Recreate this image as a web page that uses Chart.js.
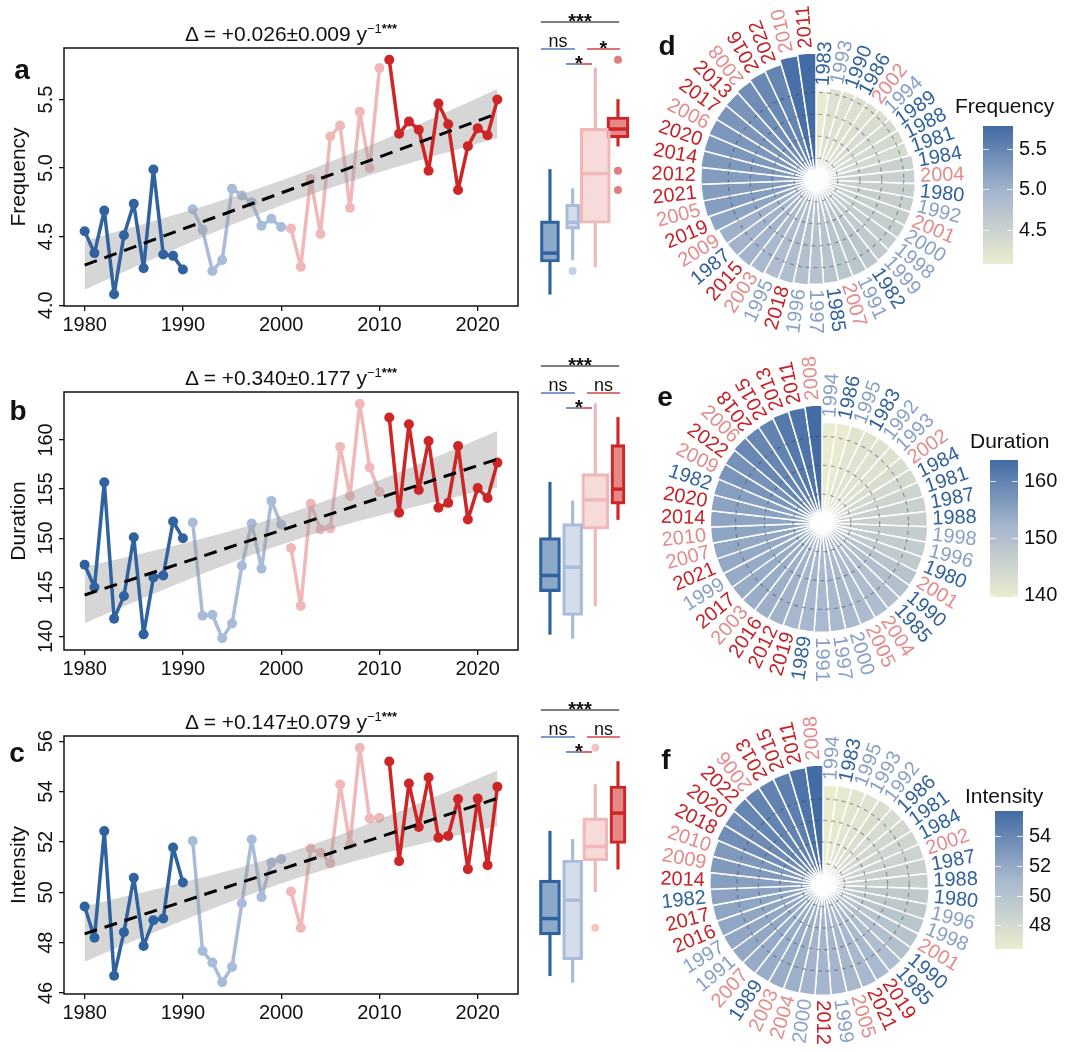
<!DOCTYPE html>
<html>
<head>
<meta charset="utf-8">
<script src="https://cdn.jsdelivr.net/npm/chart.js"></script>
<style>
  body { margin: 0; background: #fff; width: 1068px; height: 1052px; position: relative; overflow: hidden;
         font-family: "Liberation Sans", Arial, Helvetica, sans-serif; color: #111; }
  canvas { position: absolute; }
  .txt { position: absolute; white-space: nowrap; line-height: 1; }
  .ttl { font-size: 21px; transform: translate(-50%, -50%); }
  .ttl sup { font-size: 13px; vertical-align: 8px; }
  .lab { font-size: 28px; font-weight: bold; transform: translate(-50%, -50%); }
  .leg { font-size: 21px; transform: translateY(-50%); }
</style>
</head>
<body>
<script>
const FONT = '"Liberation Sans", Arial, Helvetica, sans-serif';
Chart.defaults.font.family = FONT;
Chart.defaults.color = '#111';

// ---- data ----
const years = [1980, 1981, 1982, 1983, 1984, 1985, 1986, 1987, 1988, 1989, 1990,
               1991, 1992, 1993, 1994, 1995, 1996, 1997, 1998, 1999, 2000,
               2001, 2002, 2003, 2004, 2005, 2006, 2007, 2008, 2009, 2010,
               2011, 2012, 2013, 2014, 2015, 2016, 2017, 2018, 2019, 2020, 2021, 2022];
const frequency = [4.54, 4.38, 4.69, 4.08, 4.51, 4.74, 4.27, 4.99, 4.37, 4.36, 4.26,
                   4.70, 4.55, 4.25, 4.33, 4.85, 4.80, 4.75, 4.58, 4.63, 4.57,
                   4.56, 4.28, 4.92, 4.52, 5.23, 5.31, 4.71, 5.41, 5.00, 5.73,
                   5.79, 5.25, 5.34, 5.28, 4.98, 5.47, 5.32, 4.84, 5.16, 5.29, 5.24, 5.50];
const duration = [147.3, 145.0, 155.7, 141.8, 144.1, 150.1, 140.2, 146.0, 146.2, 151.7, 150.0,
                  151.6, 142.1, 142.2, 139.8, 141.3, 147.2, 151.5, 146.9, 153.8, 151.4,
                  149.0, 143.1, 153.5, 150.9, 151.0, 159.3, 154.3, 163.7, 157.2, 154.7,
                  162.3, 152.6, 161.6, 154.9, 159.9, 153.1, 153.6, 159.4, 151.9, 155.1, 154.1, 157.7];
const intensity = [49.44, 48.20, 52.43, 46.69, 48.42, 50.58, 47.87, 48.89, 48.96, 51.78, 50.39,
                   52.04, 47.67, 47.21, 46.43, 47.04, 49.57, 52.10, 49.81, 51.18, 51.32,
                   50.03, 48.59, 51.74, 51.57, 51.15, 54.28, 51.90, 55.74, 52.93, 52.96,
                   55.19, 51.24, 54.32, 52.59, 54.56, 52.17, 52.24, 53.70, 50.92, 53.72, 51.08, 54.19];

const periodEnd = [1990, 2000, 2010, 2022];
const varNames = ['Frequency', 'Duration', 'Intensity'];
const trendText = ['+0.026±0.009', '+0.340±0.177', '+0.147±0.079'];
const lineLetters = ['a', 'b', 'c'];
const polarLetters = ['d', 'e', 'f'];
// significance: all periods, first pair, last pair, middle pair
const sigFrequency = ['***', 'ns', '*', '*'];
const sigDuration = ['***', 'ns', 'ns', '*'];
const sigIntensity = ['***', 'ns', 'ns', '*'];
const yStep = [0.5, 5, 2];
const barStep = [0.5, 10, 2];
const ringStep = [1, 40, 10];

// ---- styles / layout ----
const periodColor = ['rgb(47,98,158)', 'rgb(168,188,218)', 'rgb(240,184,184)', 'rgb(206,38,38)'];
const boxFill = ['rgba(47,98,158,0.55)', 'rgba(168,188,218,0.5)', 'rgba(240,184,184,0.5)', 'rgba(206,38,38,0.55)'];
const outFill = ['rgba(47,98,158,0.6)', 'rgba(168,188,218,0.7)', 'rgba(240,170,170,0.7)', 'rgba(206,38,38,0.6)'];
const yearColor = ['rgb(50,98,155)', 'rgb(138,160,198)', 'rgb(226,140,140)', 'rgb(196,34,40)'];
const ramp = [[235, 236, 207], [168, 184, 206], [67, 107, 164]];

const layout = [
  { top: 0,   letter: [22, 70],  pLetter: [667, 46],  polar: [816, 180, 127], bar: [983, 123, 267, 30], leg: [955, 105], boxW: [19, 14, 30, 22] },
  { top: 344, letter: [18, 411], pLetter: [665, 397], polar: [822, 523, 118], bar: [990, 457, 600, 28], leg: [970, 440], boxW: [21, 20, 27, 14] },
  { top: 688, letter: [17, 753], pLetter: [666, 760], polar: [823, 885, 120], bar: [995, 808, 952, 28], leg: [965, 795], boxW: [21, 20, 25, 16] }
];
const brackets = [
  { from: -0.40, to: 3.05, dy: -26, colors: ['#555555'] },
  { from: -0.40, to: 1.10, dy: 1,   colors: ['rgb(85,120,175)'] },
  { from: 1.63,  to: 3.09, dy: 1,   colors: ['rgb(212,70,70)'] },
  { from: 0.71,  to: 1.85, dy: 16,  colors: ['rgb(85,120,175)', 'rgb(212,70,70)'] }
];

// ---- helpers ----
function periodOf(y) { return periodEnd.findIndex(e => y <= e); }

function rampColor(t) {
  t = Math.max(0, Math.min(1, t));
  const k = t < 0.5 ? 0 : 1, f = t < 0.5 ? t / 0.5 : (t - 0.5) / 0.5;
  const c = ramp[k].map((v, i) => Math.round(v + (ramp[k + 1][i] - v) * f));
  return `rgb(${c[0]},${c[1]},${c[2]})`;
}

function quantile(s, p) {
  const h = (s.length - 1) * p, i = Math.floor(h);
  return i + 1 < s.length ? s[i] + (h - i) * (s[i + 1] - s[i]) : s[i];
}

function boxStats(v) {
  const s = [...v].sort((a, b) => a - b);
  const q1 = quantile(s, 0.25), med = quantile(s, 0.5), q3 = quantile(s, 0.75);
  const iqr = q3 - q1, lf = q1 - 1.5 * iqr, uf = q3 + 1.5 * iqr;
  const inside = s.filter(x => x >= lf && x <= uf);
  return { q1, med, q3, lo: inside[0], hi: inside[inside.length - 1], out: s.filter(x => x < lf || x > uf) };
}

// OLS fit + 95% confidence band of the mean
function trend(vals) {
  const n = years.length;
  const mx = years.reduce((a, b) => a + b, 0) / n;
  const my = vals.reduce((a, b) => a + b, 0) / n;
  let sxx = 0, sxy = 0, sse = 0;
  years.forEach((x, i) => { sxx += (x - mx) ** 2; sxy += (x - mx) * (vals[i] - my); });
  const b = sxy / sxx, a = my - b * mx;
  years.forEach((x, i) => { sse += (vals[i] - a - b * x) ** 2; });
  const s = Math.sqrt(sse / (n - 2));
  return { fit: x => a + b * x, half: x => 2.02 * s * Math.sqrt(1 / n + (x - mx) ** 2 / sxx) };
}

function addCanvas(left, top, w, h) {
  const c = document.createElement('canvas');
  c.width = w; c.height = h;
  c.style.left = left + 'px'; c.style.top = top + 'px';
  c.style.width = w + 'px'; c.style.height = h + 'px';
  document.body.appendChild(c);
  return c;
}

function addText(html, cls, x, y) {
  const d = document.createElement('div');
  d.className = 'txt ' + cls;
  d.innerHTML = html;
  d.style.left = x + 'px'; d.style.top = y + 'px';
  document.body.appendChild(d);
}

const base = { responsive: false, animation: false, events: [], devicePixelRatio: 1 };
const noLegend = { legend: { display: false }, tooltip: { enabled: false } };

const framePlugin = {
  id: 'frame',
  afterDraw(chart) {
    const { ctx, chartArea: a } = chart;
    ctx.save();
    ctx.strokeStyle = '#111';
    ctx.lineWidth = 1.5;
    ctx.strokeRect(a.left, a.top, a.right - a.left, a.bottom - a.top);
    ctx.restore();
  }
};

function yLabelPlugin(dec) {
  return {
    id: 'ylab',
    afterDraw(chart) {
      const s = chart.scales.y, ctx = chart.ctx;
      ctx.save();
      ctx.font = `20px ${FONT}`;
      ctx.fillStyle = '#111';
      ctx.textAlign = 'center';
      ctx.textBaseline = 'middle';
      s.ticks.forEach(t => {
        ctx.save();
        ctx.translate(46, s.getPixelForValue(t.value));
        ctx.rotate(-Math.PI / 2);
        ctx.fillText(t.value.toFixed(dec), 0, 0);
        ctx.restore();
      });
      ctx.restore();
    }
  };
}

function bracketPlugin(sig) {
  return {
    id: 'sig',
    afterDraw(chart) {
      const ctx = chart.ctx, xs = chart.scales.x, top = chart.chartArea.top;
      ctx.save();
      brackets.forEach((b, k) => {
        const x0 = xs.getPixelForValue(b.from), x1 = xs.getPixelForValue(b.to), y = top + b.dy;
        const seg = (x1 - x0) / b.colors.length;
        ctx.lineWidth = 1.6;
        b.colors.forEach((c, j) => {
          ctx.strokeStyle = c;
          ctx.beginPath();
          ctx.moveTo(x0 + j * seg, y);
          ctx.lineTo(x0 + (j + 1) * seg, y);
          ctx.stroke();
        });
        const txt = sig[k], stars = txt.includes('*');
        ctx.fillStyle = '#111';
        ctx.textAlign = 'center';
        ctx.textBaseline = 'alphabetic';
        ctx.font = stars ? `bold 20px ${FONT}` : `18px ${FONT}`;
        ctx.fillText(txt, (x0 + x1) / 2, stars ? y + 6 : y - 2);
      });
      ctx.restore();
    }
  };
}

function yearLabelPlugin(idx) {
  return {
    id: 'years',
    afterDatasetsDraw(chart) {
      const ctx = chart.ctx, meta = chart.getDatasetMeta(0);
      ctx.save();
      ctx.font = `20px ${FONT}`;
      ctx.textBaseline = 'middle';
      meta.data.forEach((arc, j) => {
        const p = arc.getProps(['x', 'y', 'startAngle', 'endAngle', 'outerRadius'], true);
        const mid = (p.startAngle + p.endAngle) / 2;
        const deg = ((mid * 180 / Math.PI + 90) % 360 + 360) % 360;
        const rr = p.outerRadius + 5;
        const flip = deg > 180 && deg < 315;
        ctx.save();
        ctx.translate(p.x + rr * Math.cos(mid), p.y + rr * Math.sin(mid));
        ctx.rotate(flip ? mid + Math.PI : mid);
        ctx.textAlign = flip ? 'right' : 'left';
        ctx.fillStyle = yearColor[periodOf(years[idx[j]])];
        ctx.fillText(String(years[idx[j]]), 0, 0);
        ctx.restore();
      });
      ctx.restore();
    }
  };
}

// ---- panels ----
function drawRow(r, vals, sig) {
  const L = layout[r];
  const tr = trend(vals);
  const lower = years.map(x => ({ x, y: tr.fit(x) - tr.half(x) }));
  const upper = years.map(x => ({ x, y: tr.fit(x) + tr.half(x) }));
  const all = vals.concat(lower.map(p => p.y), upper.map(p => p.y));
  const lo = Math.min(...all), hi = Math.max(...all);
  const ymin = lo - 0.05 * (hi - lo), ymax = hi + 0.05 * (hi - lo);
  const dec = yStep[r] < 1 ? 1 : 0;

  // time series with trend
  const ds = [];
  for (let g = 0; g < 4; g++) {
    ds.push({
      data: years.map((x, i) => ({ x, y: vals[i] })).filter(p => periodOf(p.x) === g),
      borderColor: periodColor[g], backgroundColor: periodColor[g],
      borderWidth: 3.5, borderJoinStyle: 'round', borderCapStyle: 'round',
      pointRadius: 5, pointBorderWidth: 0,
      order: (g === 0 || g === 3) ? 2 : 4
    });
  }
  ds.push({ data: lower, pointRadius: 0, borderWidth: 0, borderColor: 'transparent', fill: false, order: 3 });
  ds.push({ data: upper, pointRadius: 0, borderWidth: 0, borderColor: 'transparent',
            fill: { target: 4 }, backgroundColor: 'rgba(153,153,153,0.4)', order: 3 });
  ds.push({ data: [1980, 2022].map(x => ({ x, y: tr.fit(x) })), borderColor: '#000',
            borderDash: [13, 8], borderWidth: 3, pointRadius: 0, order: 0 });

  new Chart(addCanvas(0, L.top, 530, 340), {
    type: 'line',
    data: { datasets: ds },
    options: {
      ...base,
      layout: { autoPadding: false, padding: { left: 0, right: 12, top: 48, bottom: 4 } },
      plugins: noLegend,
      scales: {
        x: {
          type: 'linear', min: 1977.9, max: 2024.1,
          ticks: { stepSize: 10, includeBounds: false, font: { size: 20 }, color: '#111', padding: 2,
                   maxRotation: 0, callback: v => String(v) },
          grid: { drawOnChartArea: false, tickLength: 5, color: '#111', lineWidth: 1.3 },
          border: { display: false },
          afterFit: s => { s.height = 30; }
        },
        y: {
          type: 'linear', min: ymin, max: ymax,
          ticks: { display: false, stepSize: yStep[r], includeBounds: false },
          grid: { drawOnChartArea: false, tickLength: 5, color: '#111', lineWidth: 1.3 },
          border: { display: false },
          title: { display: true, text: varNames[r], font: { size: 21 }, color: '#111', padding: { top: 7, bottom: 0 } },
          afterFit: s => { s.width = 64; }
        }
      }
    },
    plugins: [framePlugin, yLabelPlugin(dec)]
  });

  // boxplots by period
  const bds = [];
  for (let g = 0; g < 4; g++) {
    const st = boxStats(vals.filter((v, i) => periodOf(years[i]) === g));
    const w = L.boxW[g];
    bds.push({ type: 'bar', stack: 'box', data: [{ x: g, y: [st.lo, st.q1] }, { x: g, y: [st.q3, st.hi] }],
               backgroundColor: periodColor[g], barThickness: 2.5, order: 4 });
    bds.push({ type: 'bar', stack: 'box', data: [{ x: g, y: [st.q1, st.q3] }], backgroundColor: boxFill[g],
               borderColor: periodColor[g], borderWidth: 2.5, borderSkipped: false,
               barThickness: w, order: 3 });
    bds.push({ type: 'scatter', data: [{ x: g, y: st.med }], pointStyle: 'line', pointRadius: w / 2 - 1.5,
               pointBorderColor: periodColor[g], pointBorderWidth: 3.5, order: 2 });
    if (st.out.length) {
      bds.push({ type: 'scatter', data: st.out.map(v => ({ x: g, y: v })), pointRadius: 4,
                 pointBackgroundColor: outFill[g], pointBorderWidth: 0, order: 1 });
    }
  }
  new Chart(addCanvas(530, L.top, 100, 340), {
    type: 'bar',
    data: { datasets: bds },
    options: {
      ...base,
      layout: { autoPadding: false, padding: { top: 48, bottom: 34, left: 0, right: 0 } },
      plugins: noLegend,
      scales: {
        x: { type: 'linear', min: -0.88, max: 3.53, offset: false, display: false },
        y: { type: 'linear', min: ymin, max: ymax, stacked: false, display: false }
      }
    },
    plugins: [bracketPlugin(sig)]
  });

  addText(`Δ = ${trendText[r]} y<sup>−1<b>***</b></sup>`, 'ttl', 291, L.top + 33);
  addText(lineLetters[r], 'lab', L.letter[0], L.letter[1]);
}

function drawPolar(r, vals) {
  const L = layout[r];
  const [cx, cy, R] = L.polar;
  const idx = years.map((y, i) => i).sort((a, b) => vals[a] - vals[b]);
  const vmin = Math.min(...vals), vmax = Math.max(...vals);
  new Chart(addCanvas(cx - 200, cy - 200, 400, 400), {
    type: 'polarArea',
    data: {
      labels: idx.map(i => String(years[i])),
      datasets: [{
        data: idx.map(i => vals[i]),
        backgroundColor: idx.map(i => rampColor((vals[i] - vmin) / (vmax - vmin))),
        borderColor: '#fff', borderWidth: 1.5
      }]
    },
    options: {
      ...base,
      layout: { autoPadding: false, padding: 50 },
      plugins: noLegend,
      scales: {
        r: {
          min: 0, max: vmax * 150 / R,
          ticks: { display: false, stepSize: ringStep[r] },
          afterBuildTicks: s => { s.ticks = s.ticks.filter(t => t.value < vmin); },
          grid: { color: 'rgba(60,60,70,0.45)', lineWidth: 1.2, z: 1 },
          border: { dash: [4, 4] },
          angleLines: { display: false },
          pointLabels: { display: false }
        }
      }
    },
    plugins: [yearLabelPlugin(idx)]
  });
  addText(polarLetters[r], 'lab', L.pLetter[0], L.pLetter[1]);
}

function drawColorbar(r, vals) {
  const L = layout[r];
  const [bx, bt, bb, bw] = L.bar;
  const vmin = Math.min(...vals), vmax = Math.max(...vals);
  const dec = barStep[r] < 1 ? 1 : 0;
  new Chart(addCanvas(bx, bt - 15, bw + 60, bb - bt + 30), {
    type: 'bar',
    data: {
      labels: [''],
      datasets: [{
        data: [[vmin, vmax]], borderWidth: 0, barPercentage: 1, categoryPercentage: 1,
        backgroundColor: c => {
          const ys = c.chart.scales.y;
          if (!ys || !c.chart.chartArea) return rampColor(0.5);
          const g = c.chart.ctx.createLinearGradient(0, ys.getPixelForValue(vmin), 0, ys.getPixelForValue(vmax));
          for (let k = 0; k <= 10; k++) g.addColorStop(k / 10, rampColor(k / 10));
          return g;
        }
      }]
    },
    options: {
      ...base,
      layout: { autoPadding: false, padding: { top: 15, bottom: 15, left: 0, right: 0 } },
      plugins: noLegend,
      scales: {
        x: { display: false },
        y: {
          position: 'right', min: vmin, max: vmax,
          ticks: { stepSize: barStep[r], includeBounds: false, font: { size: 20 }, color: '#111', padding: 6,
                   callback: v => Number(v).toFixed(dec) },
          grid: { drawTicks: false, color: 'rgba(255,255,255,0.8)', lineWidth: 1, z: 1 },
          border: { display: false, dash: [6, bw - 12] },
          afterFit: s => { s.width = 60; }
        }
      }
    }
  });
  addText(varNames[r], 'leg', L.leg[0], L.leg[1]);
}

const series = [frequency, duration, intensity];
const sigs = [sigFrequency, sigDuration, sigIntensity];
series.forEach((vals, r) => {
  drawRow(r, vals, sigs[r]);
  drawPolar(r, vals);
  drawColorbar(r, vals);
});
</script>
</body>
</html>
